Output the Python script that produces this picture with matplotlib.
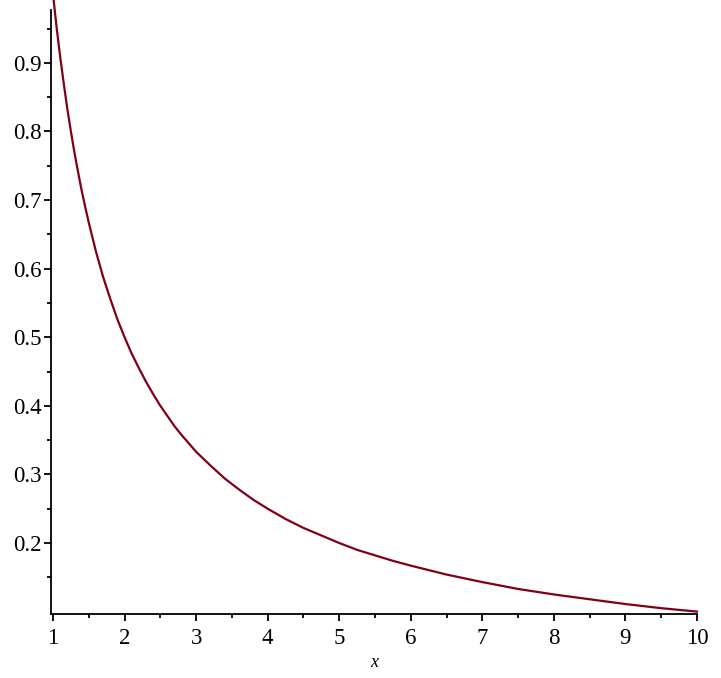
import numpy as np
import matplotlib.pyplot as plt
from matplotlib.ticker import MultipleLocator, FixedLocator

# values
xs = [1.0, 1.05, 1.1, 1.15, 1.2, 1.25, 1.3, 1.35, 1.4, 1.45, 1.5, 1.6, 1.7,
      1.8, 1.9, 2.0, 2.1, 2.2, 2.3, 2.4, 2.5, 2.6, 2.7, 2.8, 2.9, 3.0, 3.2,
      3.4, 3.6, 3.8, 4.0, 4.25, 4.5, 4.75, 5.0, 5.25, 5.5, 5.75, 6.0, 6.5,
      7.0, 7.5, 8.0, 8.5, 9.0, 9.5, 10.0]
ys = [1.0, 0.952, 0.909, 0.870, 0.833, 0.8, 0.769, 0.741, 0.714, 0.690, 0.667,
      0.625, 0.588, 0.556, 0.526, 0.5, 0.476, 0.455, 0.435, 0.417, 0.4, 0.385,
      0.370, 0.357, 0.345, 0.333, 0.313, 0.294, 0.278, 0.263, 0.25, 0.235,
      0.222, 0.211, 0.2, 0.190, 0.182, 0.174, 0.167, 0.154, 0.143, 0.133,
      0.125, 0.118, 0.111, 0.105, 0.1]
y_ticks = [0.2, 0.3, 0.4, 0.5, 0.6, 0.7, 0.8, 0.9]
y_labels = ['0.2', '0.3', '0.4', '0.5', '0.6', '0.7', '0.8', '0.9']

plt.rcParams['font.family'] = ['Liberation Serif', 'DejaVu Serif']

fig = plt.figure(figsize=(7.21, 6.78), dpi=100)
ax = fig.add_axes([51 / 721, 1 - 614 / 678, (697 - 51) / 721, (614 - 10) / 678])

ax.plot(xs, ys, color='#800018', lw=1.6, clip_on=False)

ax.set_xlim(0.972, 10)
ax.set_ylim(0.0965, 0.977)

for s in ['top', 'right']:
    ax.spines[s].set_visible(False)
for s in ['left', 'bottom']:
    ax.spines[s].set_linewidth(1.3)

ax.xaxis.set_major_locator(MultipleLocator(1))
ax.xaxis.set_minor_locator(MultipleLocator(0.5))
ax.set_yticks(y_ticks)
ax.set_yticklabels(y_labels)
ax.yaxis.set_minor_locator(FixedLocator(np.arange(0.15, 0.96, 0.1)))

ax.tick_params(which='major', length=5, width=1.3, labelsize=16.5)
ax.tick_params(axis='y', pad=2)
ax.tick_params(axis='x', pad=5)
ax.tick_params(which='minor', length=3, width=1.3)

ax.set_xlabel('x', fontstyle='italic', fontsize=13, labelpad=4)

fig.savefig('out.png', dpi=100)
